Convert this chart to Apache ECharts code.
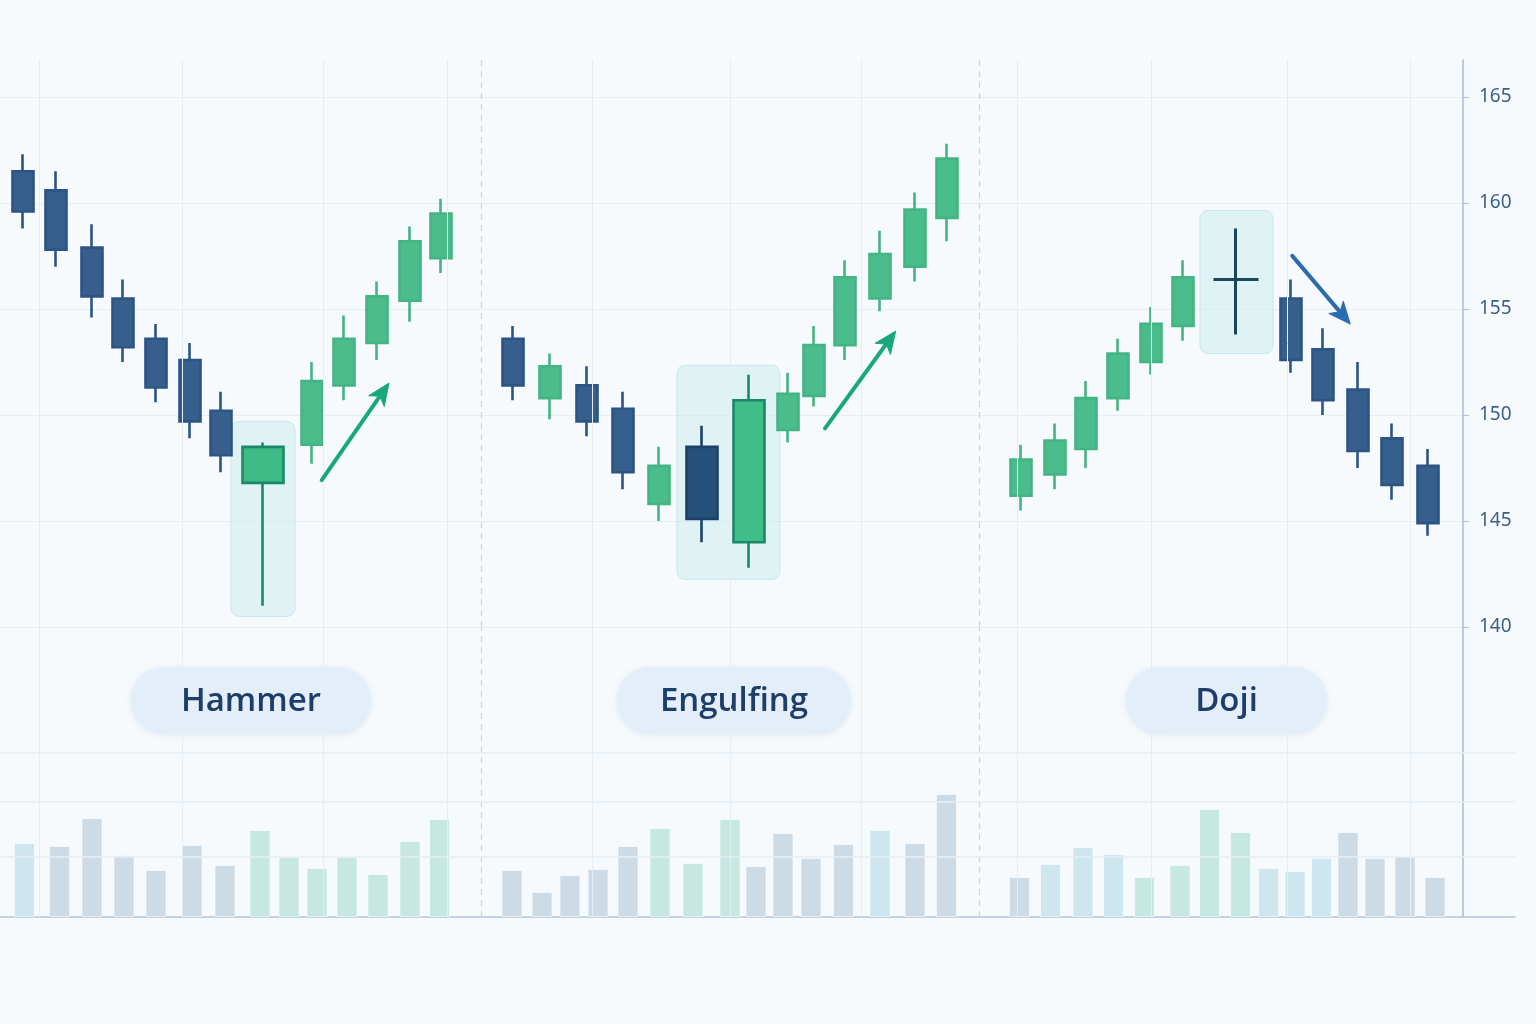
<!DOCTYPE html>
<html>
<head>
<meta charset="utf-8">
<script src="https://cdn.jsdelivr.net/npm/echarts/dist/echarts.min.js"></script>
<style>
  html, body { margin: 0; padding: 0; background: #f6fafc; }
  #chart { width: 1536px; height: 1024px; }
</style>
</head>
<body>
<div id="chart"></div>
<script>
// ---------- DATA ----------
// x position along the session timeline (arbitrary time units)
const candlePos   = [2.3, 5.6, 9.2, 12.3, 15.6, 19.0, 22.1, 26.3, 31.2, 34.4, 37.7, 41.0, 44.1,
                     51.3, 55.0, 58.7, 62.3, 65.9, 70.2, 74.9, 78.8, 81.4, 84.5, 88.0, 91.5, 94.7,
                     102.1, 105.5, 108.6, 111.8, 115.1, 118.3, 123.6, 129.1, 132.3, 135.8, 139.2, 142.8];
const candleOpen  = [161.5, 160.6, 157.9, 155.5, 153.6, 152.6, 150.2, 146.8, 148.6, 151.4, 153.4, 155.4, 157.4,
                     153.6, 150.8, 151.4, 150.3, 145.8, 148.5, 144.0, 149.3, 150.9, 153.3, 155.5, 157.0, 159.3,
                     146.2, 147.2, 148.4, 150.8, 152.5, 154.2, 156.4, 155.5, 153.1, 151.2, 148.9, 147.6];
const candleClose = [159.6, 157.8, 155.6, 153.2, 151.3, 149.7, 148.1, 148.5, 151.6, 153.6, 155.6, 158.2, 159.5,
                     151.4, 152.3, 149.7, 147.3, 147.6, 145.1, 150.7, 151.0, 153.3, 156.5, 157.6, 159.7, 162.1,
                     147.9, 148.8, 150.8, 152.9, 154.3, 156.5, 156.4, 152.6, 150.7, 148.3, 146.7, 144.9];
const candleLow   = [158.8, 157.0, 154.6, 152.5, 150.6, 148.9, 147.3, 141.0, 147.7, 150.7, 152.6, 154.4, 156.7,
                     150.7, 149.8, 149.0, 146.5, 145.0, 144.0, 142.8, 148.7, 150.4, 152.6, 154.9, 156.3, 158.2,
                     145.5, 146.5, 147.5, 150.2, 151.9, 153.5, 153.8, 152.0, 150.0, 147.5, 146.0, 144.3];
const candleHigh  = [162.3, 161.5, 159.0, 156.4, 154.3, 153.4, 151.1, 148.7, 152.5, 154.7, 156.3, 158.9, 160.2,
                     154.2, 152.9, 152.3, 151.1, 148.5, 149.5, 151.9, 152.0, 154.2, 157.3, 158.7, 160.5, 162.8,
                     148.6, 149.6, 151.6, 153.6, 155.1, 157.3, 158.8, 156.4, 154.1, 152.5, 149.6, 148.4];
const candleKind  = ['n','n','n','n','n','n','n','hammer','n','n','n','n','n',
                     'n','n','n','n','n','engulf','engulf','n','n','n','n','n','n',
                     'n','n','n','n','n','n','doji','n','n','n','n','n'];

const volPos   = [2.45, 5.96, 9.2, 12.4, 15.6, 19.2, 22.5, 26.0, 28.9, 31.7, 34.7, 37.8, 41.0, 43.95,
                  51.2, 54.2, 57.0, 59.8, 62.8, 66.0, 69.3, 73.0, 75.6, 78.3, 81.1, 84.35, 88.0, 91.5, 94.65,
                  101.95, 105.05, 108.3, 111.35, 114.45, 118.0, 120.95, 124.05, 126.85, 129.5, 132.15, 134.8, 137.5, 140.5, 143.5];
const volValue = [7.4, 7.1, 9.9, 6.2, 4.7, 7.2, 5.2, 8.7, 6.0, 4.9, 6.0, 4.3, 7.6, 9.8,
                  4.7, 2.5, 4.2, 4.8, 7.1, 8.9, 5.4, 9.8, 5.1, 8.4, 5.9, 7.3, 8.7, 7.4, 12.3,
                  4.0, 5.3, 7.0, 6.3, 4.0, 5.2, 10.8, 8.5, 4.9, 4.6, 5.9, 8.5, 5.9, 6.1, 4.0];
const volTone  = ['c','g','g','g','g','g','g','m','m','m','m','m','m','m',
                  'g','g','g','g','g','m','m','m','g','g','g','g','c','g','g',
                  'g','c','c','c','m','m','m','m','c','c','c','g','g','g','g'];

const priceTicks   = [140, 145, 150, 155, 160, 165];
const gridX        = [3.9, 18.2, 32.3, 44.7, 59.2, 73.0, 86.1, 101.7, 115.1, 128.7, 141.0];
const separators   = [48.1, 97.9];
const volGridLines = [6.0, 11.5, 16.4];

const patternNames = ['Hammer', 'Engulfing', 'Doji'];
// highlight boxes: [xStart, xEnd, priceTop, priceBottom]
const patternBoxes = [[23.1, 29.5, 149.7, 140.5], [67.7, 78.0, 152.35, 142.25], [120.0, 127.3, 159.65, 152.9]];
// arrows: [xFrom, priceFrom, xTip, priceTip]
const patternArrows = [[32.17, 146.93, 38.9, 151.51], [82.5, 149.37, 89.57, 153.96], [129.23, 157.51, 135.03, 154.29]];
const arrowDir = ['up', 'up', 'down'];

// ---------- BUILD ----------
const COLORS = {
  up: '#4bbc8b', upBorder: '#44b484',
  down: '#375f8e', downBorder: '#2c5484',
  tone: { c: '#cde6ef', g: '#cddbe7', m: '#c7e8e1' }
};

function candlesOf(kind) {
  const out = [];
  for (let i = 0; i < candlePos.length; i++) {
    if (candleKind[i] === kind) out.push([candlePos[i], candleOpen[i], candleClose[i], candleLow[i], candleHigh[i]]);
  }
  return out;
}

const volData = volPos.map((x, i) => ({
  value: [x, volValue[i]],
  itemStyle: { color: COLORS.tone[volTone[i]] }
}));

const X_MAX_PRICE = 146.3;
const X_MAX_VOL = 151.5;

const chart = echarts.init(document.getElementById('chart'), null, { renderer: 'canvas' });

const pills = [
  { cx: 251, w: 240 }, { cx: 734, w: 234 }, { cx: 1226.5, w: 201 }
];

const gridLineStyle = { color: '#e6eef5', width: 1, type: 'solid' };
const sepLineStyle = { color: '#c9d5df', width: 1.2, type: [6, 5] };

const option = {
  animation: false,
  backgroundColor: '#f6fafc',
  grid: [
    { left: 0, top: 60, width: 1463, height: 567 },
    { left: 0, top: 627, width: 1515, height: 290 }
  ],
  xAxis: [
    { type: 'value', gridIndex: 0, min: 0, max: X_MAX_PRICE, show: false },
    { type: 'value', gridIndex: 1, min: 0, max: X_MAX_VOL,
      axisLine: { show: true, onZero: false, lineStyle: { color: '#b3c5d6', width: 1.5 } },
      axisTick: { show: false }, axisLabel: { show: false }, splitLine: { show: false } }
  ],
  yAxis: [
    { type: 'value', gridIndex: 0, position: 'right', min: 140, max: 166.75, interval: 5,
      axisLine: { show: true, onZero: false, lineStyle: { color: '#a9bccf', width: 1.5 } },
      axisTick: { show: true, length: 6, lineStyle: { color: '#b3c5d6', width: 1.2 } },
      axisLabel: { color: '#3d5f88', fontSize: 19, margin: 16, fontFamily: 'Noto Sans',
                   showMaxLabel: false,
                   formatter: v => priceTicks.indexOf(v) >= 0 ? String(v) : '' },
      splitLine: { show: true, showMaxLine: false, lineStyle: { color: '#e5eef5', width: 1 } } },
    { type: 'value', gridIndex: 1, position: 'right', offset: -52, min: 0, max: 29,
      axisLine: { show: true, onZero: false, lineStyle: { color: '#a9bccf', width: 1.5 } },
      axisTick: { show: false }, axisLabel: { show: false }, splitLine: { show: false } }
  ],
  series: [
    // background grid lines (price area)
    { type: 'line', xAxisIndex: 0, yAxisIndex: 0, data: [], z: 0, silent: true,
      markLine: { silent: true, symbol: 'none', animation: false, label: { show: false },
        data: gridX.map(v => ({ xAxis: v, lineStyle: gridLineStyle }))
          .concat(separators.map(v => ({ xAxis: v, lineStyle: sepLineStyle }))) } },
    // background grid lines (volume area)
    { type: 'line', xAxisIndex: 1, yAxisIndex: 1, data: [], z: 0, silent: true,
      markLine: { silent: true, symbol: 'none', animation: false, label: { show: false },
        data: gridX.map(v => ({ xAxis: v, lineStyle: gridLineStyle }))
          .concat(separators.map(v => ({ xAxis: v, lineStyle: sepLineStyle })))
          .concat(volGridLines.map(v => ({ yAxis: v, lineStyle: { color: '#e6eef5', width: 1.5, type: 'solid' } }))) } },
    // highlight boxes
    { type: 'custom', xAxisIndex: 0, yAxisIndex: 0, z: 1, silent: true,
      dimensions: ['x0', 'x1', 'y0', 'y1'],
      encode: { x: [0, 1], y: [2, 3] },
      data: patternBoxes,
      renderItem: function (params, api) {
        const a = api.coord([api.value(0), api.value(2)]);
        const b = api.coord([api.value(1), api.value(3)]);
        return { type: 'rect',
          shape: { x: a[0], y: a[1], width: b[0] - a[0], height: b[1] - a[1], r: 8 },
          style: { fill: 'rgba(196,234,238,0.45)', stroke: 'rgba(190,228,234,0.8)', lineWidth: 1 } };
      } },
    // regular candles
    { type: 'candlestick', xAxisIndex: 0, yAxisIndex: 0, z: 3, barWidth: 21,
      data: candlesOf('n'),
      itemStyle: { color: COLORS.up, borderColor: COLORS.upBorder, color0: COLORS.down, borderColor0: COLORS.downBorder, borderWidth: 2.6 } },
    // hammer
    { type: 'candlestick', xAxisIndex: 0, yAxisIndex: 0, z: 3, barWidth: 41,
      data: candlesOf('hammer'),
      itemStyle: { color: '#3dba86', borderColor: '#1a8966', color0: '#3dba86', borderColor0: '#1a8966', borderWidth: 2.6 } },
    // engulfing pair
    { type: 'candlestick', xAxisIndex: 0, yAxisIndex: 0, z: 3, barWidth: 31,
      data: candlesOf('engulf'),
      itemStyle: { color: '#40bd88', borderColor: '#1a8865', color0: '#255079', borderColor0: '#1c426b', borderWidth: 2.6 } },
    // doji
    { type: 'candlestick', xAxisIndex: 0, yAxisIndex: 0, z: 3, barWidth: 46,
      data: candlesOf('doji'),
      itemStyle: { color: '#19475a', borderColor: '#19475a', color0: '#19475a', borderColor0: '#19475a', borderColorDoji: '#19475a', borderWidth: 3 } },
    // arrows
    { type: 'custom', xAxisIndex: 0, yAxisIndex: 0, z: 5, silent: true,
      dimensions: ['x0', 'y0', 'x1', 'y1'],
      encode: { x: [0, 2], y: [1, 3] },
      data: patternArrows,
      renderItem: function (params, api) {
        const p0 = api.coord([api.value(0), api.value(1)]);
        const p1 = api.coord([api.value(2), api.value(3)]);
        const dx = p1[0] - p0[0], dy = p1[1] - p0[1];
        const len = Math.sqrt(dx * dx + dy * dy);
        const ux = dx / len, uy = dy / len;
        const nx = -uy, ny = ux;
        const headLen = 22, headHalf = 9.5, notch = 16;
        const base = [p1[0] - ux * headLen, p1[1] - uy * headLen];
        const nb = [p1[0] - ux * notch, p1[1] - uy * notch];
        const col = arrowDir[params.dataIndex] === 'up' ? '#19a87e' : '#2b6cb0';
        return { type: 'group', children: [
          { type: 'line', shape: { x1: p0[0], y1: p0[1], x2: nb[0], y2: nb[1] },
            style: { stroke: col, lineWidth: 4, lineCap: 'round' } },
          { type: 'polygon', shape: { points: [p1,
              [base[0] + nx * headHalf, base[1] + ny * headHalf], nb,
              [base[0] - nx * headHalf, base[1] - ny * headHalf]] },
            style: { fill: col, stroke: col, lineWidth: 1, lineJoin: 'round' } }
        ] };
      } },
    // volume bars
    { type: 'bar', xAxisIndex: 1, yAxisIndex: 1, z: 2, barWidth: 21,
      data: volData,
      itemStyle: { borderColor: 'rgba(255,255,255,0.55)', borderWidth: 1 } }
  ],
  graphic: patternNames.map((name, i) => ({
    type: 'group',
    z: 10,
    children: [
      { type: 'rect', shape: { x: pills[i].cx - pills[i].w / 2, y: 667, width: pills[i].w, height: 67, r: 33.5 },
        style: { fill: '#e4eef9', shadowBlur: 6, shadowColor: 'rgba(150,180,210,0.25)', shadowOffsetY: 1 } },
      { type: 'text', x: pills[i].cx, y: 702,
        style: { text: name, fill: '#1c3e69', font: '600 33px "Open Sans", "Noto Sans", sans-serif',
                 align: 'center', verticalAlign: 'middle' } }
    ]
  }))
};

chart.setOption(option);
</script>
</body>
</html>
